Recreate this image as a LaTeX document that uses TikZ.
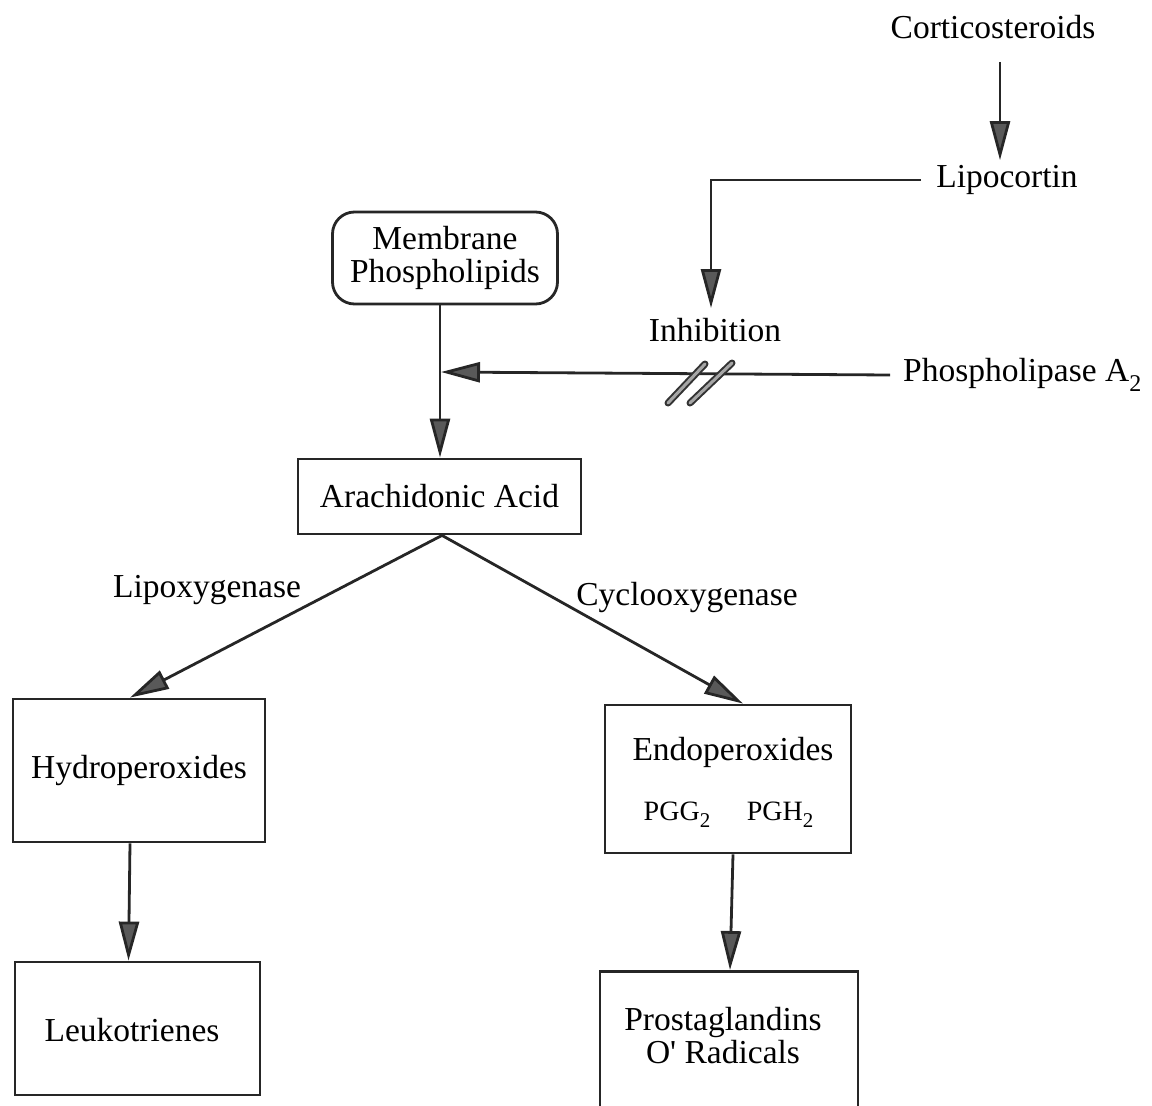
\documentclass[tikz,border=0pt]{standalone}
\usepackage{fontspec}
\setmainfont{Liberation Serif}
\newfontfamily\plainserif{Liberation Serif}
\usetikzlibrary{arrows.meta}
\newcommand{\bigsub}[1]{\raisebox{-10pt}{\fontsize{24}{24}\selectfont #1}}
\newcommand{\smallsub}[1]{\raisebox{-7pt}{\fontsize{21}{21}\selectfont #1}}
\begin{document}
\begin{tikzpicture}[x=1pt,y=-1pt,
  every node/.style={font=\fontsize{33.5}{33}\selectfont, inner sep=0pt},
  box/.style={draw=black!85, line width=2.8pt, fill=white},
  conn/.style={draw=black!85, line width=2.8pt},
  arr/.style={conn, -{Triangle[length=39pt,width=20pt,fill=black!65]}},
  slash/.style={line width=2pt, draw=black!80, double=black!35, double distance=3pt, line cap=round}
]
\useasboundingbox (0,0) rectangle (1152,1106);
\clip (0,0) rectangle (1152,1106);

% top chain
\node (cort) at (993,27) {Corticosteroids};
\node (lipo) at (1007,180) {Lipocortin};
\node (inhib) at (715,330) {Inhibition};
\node[anchor=west] (pla) at (903,375) {Phospholipase A\bigsub{2}};

% boxes
\node[box, rounded corners=22pt, minimum width=225pt, minimum height=92pt, align=center] (mem) at (445,258) {Membrane\\Phospholipids};
\node[box, minimum width=283pt, minimum height=75pt] (ara) at (439.5,496.5) {Arachidonic Acid};
\node[box, minimum width=252pt, minimum height=143pt] (hyd) at (139,770.5) {Hydroperoxides};
\node[box, minimum width=246pt, minimum height=148pt] (endo) at (728,779) {};
\node (endot) at (733,752) {Endoperoxides};
\node (pgg) at (677,815) {\fontsize{28}{28}\selectfont PGG\smallsub{2}};
\node (pgh) at (780,815) {\fontsize{28}{28}\selectfont PGH\smallsub{2}};
\node[box, minimum width=245pt, minimum height=133pt] (leu) at (137.5,1028.5) {};
\node (leut) at (132,1030) {Leukotrienes};
\node[box, minimum width=258pt, minimum height=200pt, anchor=north] (pg) at (729,970) {};
\node[align=center] (pgt) at (723,1036) {Prostaglandins\\O{\plainserif '} Radicals};

% labels
\node (lox) at (207,590) {Lipoxygenase};
\node (cox) at (687,597) {Cyclooxygenase};

% connectors
\draw[arr] ([xshift=7pt,yshift=-23pt]cort.south) -- ([xshift=-7pt,yshift=5pt]lipo.north);
\draw[arr] ([xshift=-15pt]lipo.west) -| ([xshift=-4pt,yshift=10pt]inhib.north);
\draw[arr] ([xshift=-5pt]mem.south) -- ([xshift=0.5pt]ara.north);
\coordinate (j) at (441,372);
\draw[arr] ([xshift=-13pt]pla.west) -- (j);
\draw[slash] (668,403) -- (705,364);
\draw[slash] (690,403) -- (732,363);
\draw[arr] ([xshift=2.5pt]ara.south) -- ([xshift=-9pt]hyd.north);
\draw[arr] ([xshift=2.5pt]ara.south) -- ([xshift=15pt]endo.north);
\draw[arr] ([xshift=-9pt]hyd.south) -- ([xshift=-9pt]leu.north);
\draw[arr] ([xshift=5pt]endo.south) -- ([xshift=1pt]pg.north);
\end{tikzpicture}
\end{document}
